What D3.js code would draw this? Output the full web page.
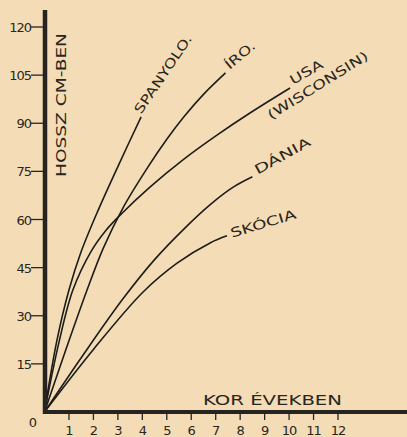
<!DOCTYPE html>
<html>
<head>
<meta charset="utf-8">
<script src="https://cdn.jsdelivr.net/npm/d3@7"></script>
<style>
  html, body { margin: 0; padding: 0; background: #f4ddb6; }
  svg { display: block; }
  text { font-family: "DejaVu Sans", sans-serif; fill: #2a2520; }
</style>
</head>
<body>
<svg id="chart"></svg>
<script>
const width = 407, height = 437;

// tick labels
const yTicks = [0, 15, 30, 45, 60, 75, 90, 105, 120];
const xTicks = [1, 2, 3, 4, 5, 6, 7, 8, 9, 10, 11, 12];

// series (age in years -> length in cm)
const spanyolAge = [0, 0.5, 1, 1.5, 2.2, 3.0, 3.95];
const spanyolLen = [0, 22, 38, 50, 63, 76.5, 92];
const iroAge = [0, 0.9, 1.74, 2.4, 3.2, 4.2, 5.0, 5.7, 6.5, 7.4];
const iroLen = [0, 20, 38, 51, 63.5, 76, 85, 92, 99, 105.7];
const usaAge = [0, 0.6, 1.16, 1.9, 2.5, 3.15, 4.31, 5.66, 7.05, 8.4, 10.04];
const usaLen = [0, 22, 38, 50, 56.5, 61.8, 70.1, 78.6, 86.3, 93.2, 101];
const daniaAge = [0, 1.6, 3.2, 4.5, 5.8, 6.8, 7.7, 8.5];
const daniaLen = [0, 18, 35.2, 47.5, 57.8, 64.8, 70, 73.3];
const skociaAge = [0, 2, 4.03, 5.42, 6.77, 7.46];
const skociaLen = [0, 19.5, 37.4, 46.4, 52.7, 54.9];

const series = [
  {name: "SPANYOLO.", age: spanyolAge, len: spanyolLen},
  {name: "ÍRO.", age: iroAge, len: iroLen},
  {name: "USA", age: usaAge, len: usaLen},
  {name: "DÁNIA", age: daniaAge, len: daniaLen},
  {name: "SKÓCIA", age: skociaAge, len: skociaLen}
];

const x = d3.scaleLinear().domain([0, 12]).range([44.5, 338]);
const y = d3.scaleLinear().domain([0, 120]).range([412, 27]);

const svg = d3.select("#chart")
  .attr("width", width)
  .attr("height", height)
  .attr("viewBox", [0, 0, width, height]);

// curves
const line = d3.line()
  .x(d => x(d[0]))
  .y(d => y(d[1]))
  .curve(d3.curveCatmullRom.alpha(0.5));

svg.append("g")
  .selectAll("path")
  .data(series)
  .enter()
  .append("path")
    .attr("d", d => line(d.age.map((a, i) => [a, d.len[i]])))
    .attr("fill", "none")
    .attr("stroke", "#1e1c1a")
    .attr("stroke-width", 1.6);

// labels at end of each curve: offset, rotation and length from the picture
const labelStyle = {
  "SPANYOLO.": {dx: 0, dy: -2, rot: -56, len: 92},
  "ÍRO.":      {dx: 4, dy: -3, rot: -40, len: 35},
  "USA":       {dx: 3, dy: -3, rot: -30, len: 36},
  "DÁNIA":     {dx: 5, dy: -2, rot: -29, len: 62},
  "SKÓCIA":    {dx: 5, dy: 2,  rot: -17, len: 68}
};
series.forEach(s => {
  const n = s.age.length - 1;
  const st = labelStyle[s.name];
  svg.append("text")
    .attr("transform", `translate(${x(s.age[n]) + st.dx},${y(s.len[n]) + st.dy}) rotate(${st.rot})`)
    .attr("font-size", 13)
    .attr("textLength", st.len)
    .attr("lengthAdjust", "spacingAndGlyphs")
    .text(s.name);
});
// second line of USA label
{
  const n = usaAge.length - 1;
  svg.append("text")
    .attr("transform", `translate(${x(usaAge[n]) - 19},${y(usaLen[n]) + 32}) rotate(-32)`)
    .attr("font-size", 13)
    .attr("textLength", 116)
    .attr("lengthAdjust", "spacingAndGlyphs")
    .text("(WISCONSIN)");
}

// y axis
const yAxis = svg.append("g");
yAxis.append("line")
  .attr("x1", 45).attr("x2", 45)
  .attr("y1", 10).attr("y2", 414)
  .attr("stroke", "#262321").attr("stroke-width", 4.5);
yAxis.selectAll(".ytick")
  .data(yTicks.filter(d => d > 0))
  .enter()
  .append("line")
    .attr("x1", 31).attr("x2", 45)
    .attr("y1", d => y(d)).attr("y2", d => y(d))
    .attr("stroke", "#262321").attr("stroke-width", 1.3);
yAxis.selectAll(".ylab")
  .data(yTicks)
  .enter()
  .append("text")
    .attr("x", d => d === 0 ? 36 : 31)
    .attr("y", d => d === 0 ? y(d) + 15 : y(d) + 5)
    .attr("text-anchor", "end")
    .attr("font-size", 13)
    .attr("letter-spacing", -1)
    .text(d => d);

svg.append("text")
  .attr("transform", "translate(66,105) rotate(-90)")
  .attr("text-anchor", "middle")
  .attr("font-size", 14)
  .attr("textLength", 144)
  .attr("lengthAdjust", "spacingAndGlyphs")
  .text("HOSSZ CM-BEN");

// x axis
const xAxis = svg.append("g");
xAxis.append("line")
  .attr("x1", 43).attr("x2", width)
  .attr("y1", 412).attr("y2", 412)
  .attr("stroke", "#262321").attr("stroke-width", 4);
xAxis.selectAll(".xtick")
  .data(xTicks)
  .enter()
  .append("line")
    .attr("x1", d => x(d)).attr("x2", d => x(d))
    .attr("y1", 412).attr("y2", 420)
    .attr("stroke", "#262321").attr("stroke-width", 1.3);
xAxis.selectAll(".xlab")
  .data(xTicks)
  .enter()
  .append("text")
    .attr("x", d => x(d))
    .attr("y", 435)
    .attr("text-anchor", "middle")
    .attr("font-size", 13)
    .attr("letter-spacing", -1)
    .text(d => d);

svg.append("text")
  .attr("x", 203)
  .attr("y", 405)
  .attr("font-size", 14)
  .attr("textLength", 139)
  .attr("lengthAdjust", "spacingAndGlyphs")
  .text("KOR ÉVEKBEN");
</script>
</body>
</html>
